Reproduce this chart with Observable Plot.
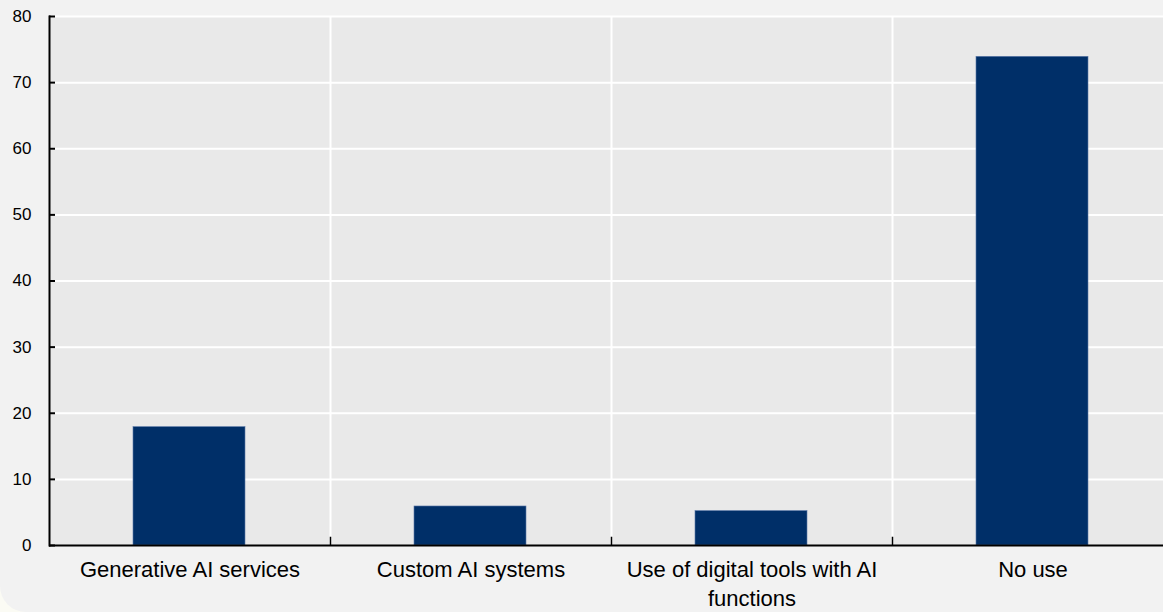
<!DOCTYPE html>
<html>
<head>
<meta charset="utf-8">
<script src="https://cdn.jsdelivr.net/npm/d3@7"></script>
<script src="https://cdn.jsdelivr.net/npm/@observablehq/plot@0.6"></script>
<style>
  html, body { margin: 0; padding: 0; background: #fbfbf4; }
  #panel { width: 1163px; height: 612px; overflow: hidden; background: #f2f2f2; border-bottom-left-radius: 26px; }
  #panel svg { display: block; max-width: none !important; }
</style>
</head>
<body>
<div id="panel"></div>
<script>
const categories = ["Generative AI services", "Custom AI systems", "Use of digital tools with AI functions", "No use"];
const categoryLabels = ["Generative AI services", "Custom AI systems", "Use of digital tools with AI\nfunctions", "No use"];
const values = [17.9, 5.9, 5.2, 73.9];
const yTicks = [0, 10, 20, 30, 40, 50, 60, 70, 80];

const data = categories.map((c, i) => ({category: c, value: values[i]}));
const labelOf = new Map(categories.map((c, i) => [c, categoryLabels[i]]));

const W = 1173, ML = 49;
const chart = Plot.plot({
  width: W,
  height: 612,
  marginLeft: ML,
  marginRight: 0,
  marginTop: 16,
  marginBottom: 67,
  style: {background: "transparent", fontFamily: "'Liberation Sans', Arial, sans-serif", color: "#000", maxWidth: "none"},
  x: {type: "band", domain: categories, padding: 0},
  y: {type: "linear", domain: [0, 80], ticks: yTicks},
  marks: [
    Plot.frame({fill: "#e9e9e9", stroke: null}),
    Plot.ruleY(yTicks.filter(d => d > 0), {y: d => d, stroke: "#ffffff", strokeWidth: 2}),
    Plot.ruleX(categories.slice(1), {x: d => d, dx: -140.5, stroke: "#ffffff", strokeWidth: 2}),
    Plot.barY(data, {x: "category", y: "value", fill: "#002f68", stroke: "#5a78a8", strokeWidth: 0.6, insetLeft: 84, insetRight: 85}),
    Plot.ruleX(categories.slice(1), {x: d => d, dx: -140.5, y1: 0, y2: 1.25, stroke: "#000", strokeWidth: 1.5}),
    Plot.tickY(yTicks, {y: d => d, stroke: "#000", strokeWidth: 2, insetRight: W - ML - 6}),
    Plot.frame({anchor: "left", stroke: "#000", strokeWidth: 2}),
    Plot.ruleY([0], {stroke: "#000", strokeWidth: 2}),
    Plot.axisY({ticks: yTicks, tickSize: 0, tickPadding: 18, fontSize: 17, fill: "#000", label: null}),
    Plot.axisX({tickSize: 0, tickPadding: 11, fontSize: 22, lineHeight: 1.32, fill: "#000", tickFormat: d => labelOf.get(d), label: null})
  ]
});
document.getElementById("panel").appendChild(chart);
</script>
</body>
</html>
